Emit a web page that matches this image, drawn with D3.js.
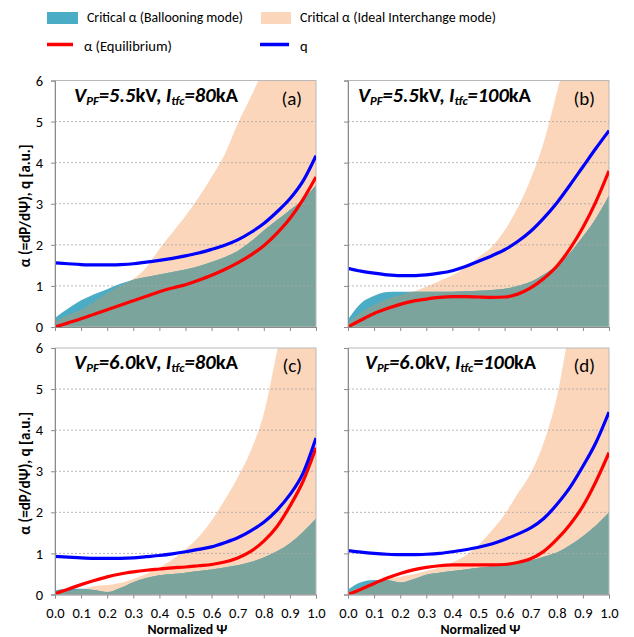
<!DOCTYPE html>
<html>
<head>
<meta charset="utf-8">
<script src="https://cdn.jsdelivr.net/npm/d3@7"></script>
<style>
  body { margin: 0; background: #fff; }
  text { font-family: Carlito, Calibri, "Liberation Sans", sans-serif; }
</style>
</head>
<body>
<svg id="chart" width="634" height="637"></svg>
<script>
// Normalized psi grid (shared by all panels)
const psi = [0, 0.05, 0.1, 0.15, 0.2, 0.25, 0.3, 0.35, 0.4, 0.45, 0.5,
             0.55, 0.6, 0.65, 0.7, 0.75, 0.8, 0.85, 0.9, 0.95, 1.0];

const panelTags = ['(a)', '(b)', '(c)', '(d)'];
const vpfLabels = ['5.5', '5.5', '6.0', '6.0'];
const itfcLabels = ['80', '100', '80', '100'];

// (a) VPF=5.5kV, Itfc=80kA
const qA = [1.56, 1.54, 1.52, 1.51, 1.51, 1.52, 1.54, 1.58, 1.62, 1.67, 1.73,
            1.80, 1.89, 1.99, 2.12, 2.30, 2.52, 2.80, 3.12, 3.55, 4.17];
const alphaA = [0, 0.10, 0.20, 0.31, 0.42, 0.53, 0.64, 0.75, 0.86, 0.95, 1.03,
                1.14, 1.26, 1.40, 1.56, 1.75, 1.98, 2.28, 2.64, 3.10, 3.65];
const ballA = [0.22, 0.45, 0.65, 0.80, 0.92, 1.05, 1.15, 1.22, 1.28, 1.34, 1.40,
               1.48, 1.58, 1.70, 1.85, 2.08, 2.35, 2.60, 2.85, 3.10, 3.45];
const interA = [0.14, 0.30, 0.42, 0.62, 0.83, 1.00, 1.17, 1.45, 1.90, 2.30, 2.70,
                3.15, 3.65, 4.20, 4.95, 5.60, 6.30, 7.2, 8.2, 9.2, 10.0];

// (b) VPF=5.5kV, Itfc=100kA
const qB = [1.43, 1.36, 1.31, 1.27, 1.25, 1.25, 1.27, 1.31, 1.37, 1.47, 1.60,
            1.73, 1.88, 2.08, 2.33, 2.65, 3.02, 3.45, 3.90, 4.35, 4.78];
const alphaB = [0, 0.17, 0.33, 0.45, 0.55, 0.63, 0.68, 0.72, 0.74, 0.74, 0.73,
                0.72, 0.73, 0.80, 0.95, 1.18, 1.48, 1.90, 2.42, 3.05, 3.80];
const ballB = [0.18, 0.58, 0.76, 0.85, 0.86, 0.86, 0.86, 0.86, 0.86, 0.87, 0.88,
               0.90, 0.93, 1.00, 1.10, 1.28, 1.50, 1.80, 2.20, 2.65, 3.20];
const interB = [0.10, 0.35, 0.54, 0.68, 0.78, 0.86, 0.98, 1.12, 1.26, 1.45, 1.70,
                1.95, 2.35, 2.90, 3.60, 4.50, 5.70, 7.0, 8.5, 9.5, 10.0];

// (c) VPF=6.0kV, Itfc=80kA
const qC = [0.93, 0.91, 0.89, 0.88, 0.88, 0.88, 0.89, 0.92, 0.95, 0.99, 1.04,
            1.10, 1.16, 1.26, 1.38, 1.55, 1.76, 2.05, 2.43, 2.95, 3.81];
const alphaC = [0.02, 0.13, 0.24, 0.34, 0.43, 0.50, 0.55, 0.59, 0.62, 0.65, 0.67,
                0.70, 0.73, 0.79, 0.89, 1.05, 1.30, 1.65, 2.15, 2.75, 3.57];
const ballC = [0.10, 0.14, 0.14, 0.11, 0.06, 0.16, 0.30, 0.40, 0.47, 0.50, 0.53,
               0.57, 0.61, 0.66, 0.71, 0.79, 0.90, 1.05, 1.25, 1.52, 1.85];
const interC = [0.04, 0.08, 0.12, 0.20, 0.23, 0.28, 0.38, 0.50, 0.65, 0.85, 1.10,
                1.40, 1.80, 2.30, 2.85, 3.50, 4.40, 5.90, 7.5, 9.0, 10.0];

// (d) VPF=6.0kV, Itfc=100kA
const qD = [1.07, 1.03, 1.00, 0.98, 0.97, 0.97, 0.98, 1.00, 1.04, 1.09, 1.15,
            1.23, 1.34, 1.47, 1.62, 1.85, 2.19, 2.60, 3.12, 3.70, 4.44];
const alphaD = [0, 0.13, 0.27, 0.40, 0.51, 0.60, 0.66, 0.70, 0.72, 0.72, 0.72,
                0.72, 0.73, 0.78, 0.87, 1.05, 1.34, 1.70, 2.15, 2.75, 3.45];
const ballD = [0.12, 0.30, 0.35, 0.35, 0.29, 0.37, 0.48, 0.53, 0.57, 0.61, 0.65,
               0.68, 0.71, 0.76, 0.83, 0.92, 1.02, 1.20, 1.42, 1.68, 2.00];
const interD = [0.06, 0.19, 0.30, 0.38, 0.43, 0.49, 0.57, 0.66, 0.78, 0.95, 1.20,
                1.55, 1.95, 2.45, 2.95, 3.70, 4.80, 6.50, 8.0, 9.0, 10.0];

const yTicks = [0, 1, 2, 3, 4, 5, 6];
const xTicks = [0, 0.1, 0.2, 0.3, 0.4, 0.5, 0.6, 0.7, 0.8, 0.9, 1.0];

const qSeries = [qA, qB, qC, qD];
const alphaSeries = [alphaA, alphaB, alphaC, alphaD];
const ballSeries = [ballA, ballB, ballC, ballD];
const interSeries = [interA, interB, interC, interD];

const colors = {
    ball: '#4BACC6',
    inter: '#FBD6BA',
    overlap: '#7BA59C',
    alpha: '#FF0000',
    q: '#0000FF',
    axis: '#8C8C8C',
    border: '#B8B8B8',
    grid: '#A6A6A6'
};

const svg = d3.select('#chart');

// Panel layout: plot areas
const plotW = 261;
const plotH = 246.5;
const lefts = [55, 348, 55, 348];
const tops = [80.5, 80.5, 348, 348];
const titleX = [19, 10, 19, 17];
const titleW = [164, 173, 164, 171];   // measured widths of the panel titles

const x = d3.scaleLinear().domain([0, 1]).range([0, plotW]);
const y = d3.scaleLinear().domain([0, 6]).range([plotH, 0]);

const curve = d3.curveMonotoneX;

// scale a text's font size so it spans the given width
function fitWidth(sel, base, target) {
    sel.style('font-size', base + 'px');
    const len = sel.node().getComputedTextLength();
    if (len > 0) sel.style('font-size', (base * target / len).toFixed(2) + 'px');
}

function drawPanel(i) {
    const g = svg.append('g')
        .attr('transform', `translate(${lefts[i]},${tops[i]})`);

    const clipId = 'clip' + i;
    g.append('clipPath').attr('id', clipId)
        .append('rect')
        .attr('width', plotW)
        .attr('height', plotH);

    const rows = psi.map((p, k) => ({
        p,
        q: qSeries[i][k],
        a: alphaSeries[i][k],
        b: ballSeries[i][k],
        c: interSeries[i][k]
    }));

    const areas = g.append('g').attr('clip-path', `url(#${clipId})`);

    const area = key => d3.area()
        .x(d => x(d.p))
        .y0(y(0))
        .y1(d => y(key(d)))
        .curve(curve);

    areas.append('path')
        .datum(rows)
        .attr('fill', colors.inter)
        .attr('d', area(d => d.c));

    areas.append('path')
        .datum(rows)
        .attr('fill', colors.ball)
        .attr('d', area(d => d.b));

    // where both regions overlap
    areas.append('path')
        .datum(rows)
        .attr('fill', colors.overlap)
        .attr('d', area(d => Math.min(d.b, d.c)));

    // Gridlines
    g.append('g')
        .selectAll('line')
        .data(yTicks.filter(v => v > 0 && v < 6))
        .enter()
        .append('line')
        .attr('x1', 0)
        .attr('x2', plotW)
        .attr('y1', d => y(d))
        .attr('y2', d => y(d))
        .attr('stroke', colors.grid)
        .attr('stroke-width', 0.8)
        .attr('stroke-dasharray', '2,2');

    // plot area border (top / right)
    g.append('rect')
        .attr('width', plotW)
        .attr('height', plotH)
        .attr('fill', 'none')
        .attr('stroke', colors.border)
        .attr('stroke-width', 1);

    // Lines
    const line = key => d3.line()
        .x(d => x(d.p))
        .y(d => y(key(d)))
        .curve(curve);

    const lines = g.append('g').attr('clip-path', `url(#${clipId})`);

    lines.append('path')
        .datum(rows)
        .attr('fill', 'none')
        .attr('stroke', colors.alpha)
        .attr('stroke-width', 3.2)
        .attr('d', line(d => d.a));

    lines.append('path')
        .datum(rows)
        .attr('fill', 'none')
        .attr('stroke', colors.q)
        .attr('stroke-width', 3.2)
        .attr('d', line(d => d.q));

    // Axes
    const isLeft = i % 2 === 0;
    const isBottom = i >= 2;

    const yAxis = g.append('g')
        .call(d3.axisLeft(y)
            .tickValues(yTicks)
            .tickSize(4)
            .tickPadding(8)
            .tickFormat(isLeft ? d3.format('d') : ''));

    const xAxis = g.append('g')
        .attr('transform', `translate(0,${plotH})`)
        .call(d3.axisBottom(x)
            .tickValues(xTicks)
            .tickSize(4)
            .tickPadding(9)
            .tickFormat(isBottom ? d3.format('.1f') : ''));

    [yAxis, xAxis].forEach(ax => {
        ax.select('.domain')
            .attr('stroke', colors.axis)
            .attr('stroke-width', 1);
        ax.selectAll('.tick line')
            .attr('stroke', colors.axis);
        ax.selectAll('.tick text')
            .attr('fill', '#000')
            .style('font-size', '14.5px');
    });

    // Panel title
    const title = g.append('text')
        .attr('x', titleX[i])
        .attr('y', 21)
        .style('font-weight', 'bold')
        .style('font-style', 'italic');

    title.append('tspan').text('V');
    title.append('tspan').attr('dy', 3).style('font-size', '0.62em').text('PF');
    title.append('tspan').attr('dy', -3).text('=' + vpfLabels[i]);
    title.append('tspan').style('font-style', 'normal').text('kV, ');
    title.append('tspan').text('I');
    title.append('tspan').attr('dy', 3).style('font-size', '0.62em').text('tfc');
    title.append('tspan').attr('dy', -3).text('=' + itfcLabels[i]);
    title.append('tspan').style('font-style', 'normal').text('kA');
    fitWidth(title, 18, titleW[i]);

    g.append('text')
        .attr('x', plotW - 14)
        .attr('y', 24)
        .attr('text-anchor', 'end')
        .style('font-size', '19px')
        .text(panelTags[i]);

    if (isLeft) {
        const yt = g.append('text')
            .attr('transform', `translate(-25,${plotH / 2 + 2}) rotate(-90)`)
            .attr('text-anchor', 'middle')
            .style('font-weight', 'bold')
            .text('α (=dP/dΨ), q [a.u.]');
        fitWidth(yt, 13, 123);
    }

    if (isBottom) {
        const xt = g.append('text')
            .attr('x', plotW / 2 + 2)
            .attr('y', plotH + 39)
            .attr('text-anchor', 'middle')
            .style('font-weight', 'bold')
            .text('Normalized Ψ');
        fitWidth(xt, 13, 80);
    }
}

[0, 1, 2, 3].forEach(drawPanel);

// Legend
const legend = svg.append('g');

legend.append('rect')
    .attr('x', 47).attr('y', 12).attr('width', 31).attr('height', 12)
    .attr('fill', colors.ball);
fitWidth(legend.append('text')
    .attr('x', 87).attr('y', 22)
    .text('Critical α (Ballooning mode)'), 14, 156);

legend.append('rect')
    .attr('x', 261).attr('y', 12).attr('width', 30).attr('height', 12)
    .attr('fill', colors.inter);
fitWidth(legend.append('text')
    .attr('x', 300).attr('y', 22)
    .text('Critical α (Ideal Interchange mode)'), 14, 196);

legend.append('line')
    .attr('x1', 47).attr('x2', 73).attr('y1', 44.5).attr('y2', 44.5)
    .attr('stroke', colors.alpha).attr('stroke-width', 3.5);
fitWidth(legend.append('text')
    .attr('x', 84).attr('y', 50.5)
    .text('α (Equilibrium)'), 14, 88);

legend.append('line')
    .attr('x1', 260).attr('x2', 289).attr('y1', 44.5).attr('y2', 44.5)
    .attr('stroke', colors.q).attr('stroke-width', 3.5);
legend.append('text')
    .attr('x', 300).attr('y', 50.5)
    .style('font-size', '14.5px')
    .text('q');
</script>
</body>
</html>
